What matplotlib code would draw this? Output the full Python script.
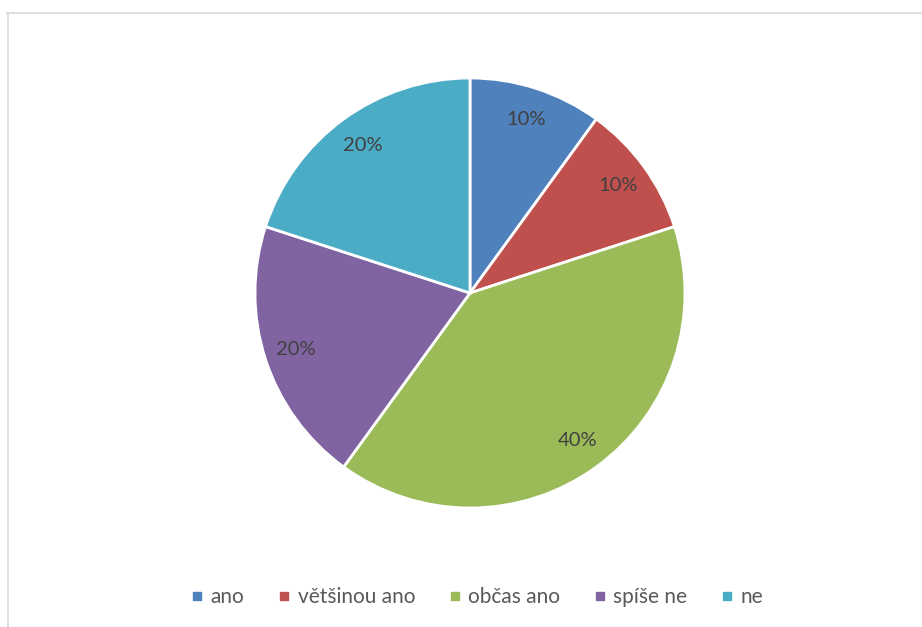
import matplotlib
matplotlib.use("Agg")
import matplotlib.pyplot as plt
from matplotlib.lines import Line2D

labels = ["ano", "většinou ano", "občas ano", "spíše ne", "ne"]
values = [10, 10, 40, 20, 20]
colors = ["#4F81BD", "#C0504D", "#9BBB59", "#8064A2", "#4BACC6"]

plt.rcParams['font.family'] = ['Lato', 'DejaVu Sans']

W, H = 922, 627
fig = plt.figure(figsize=(W / 100, H / 100), dpi=100)

# chart frame (light grey border, cropped on right/bottom)
fig.add_artist(Line2D([7 / W, 921 / W], [1 - 12.5 / H, 1 - 12.5 / H],
                      color="#D9D9D9", lw=1.2))
fig.add_artist(Line2D([7.5 / W, 7.5 / W], [0, 1 - 12.5 / H],
                      color="#D9D9D9", lw=1.2))

cx, cy, r = 470, 293, 215
ax = fig.add_axes([(cx - r) / W, (H - cy - r) / H, 2 * r / W, 2 * r / H])
wedges, texts, autotexts = ax.pie(
    values, colors=colors, startangle=90, counterclock=False,
    autopct="%d%%", pctdistance=0.85, radius=1,
    wedgeprops=dict(edgecolor="white", linewidth=2),
    textprops=dict(color="#404040", fontsize=14.5))
ax.set_xlim(-1, 1)
ax.set_ylim(-1, 1)
ax.set_aspect("equal")
ax.axis("off")

handles = [Line2D([], [], marker="s", linestyle="none", markersize=6,
                  markerfacecolor=c, markeredgecolor=c) for c in colors]
fig.legend(handles, labels, loc="center", bbox_to_anchor=(477 / W, 1 - 597 / H),
           ncol=5, frameon=False, fontsize=15, handlelength=0.6,
           handletextpad=0.35, columnspacing=1.6, labelcolor="#595959")

fig.savefig("out.png", dpi=100, facecolor="white")
